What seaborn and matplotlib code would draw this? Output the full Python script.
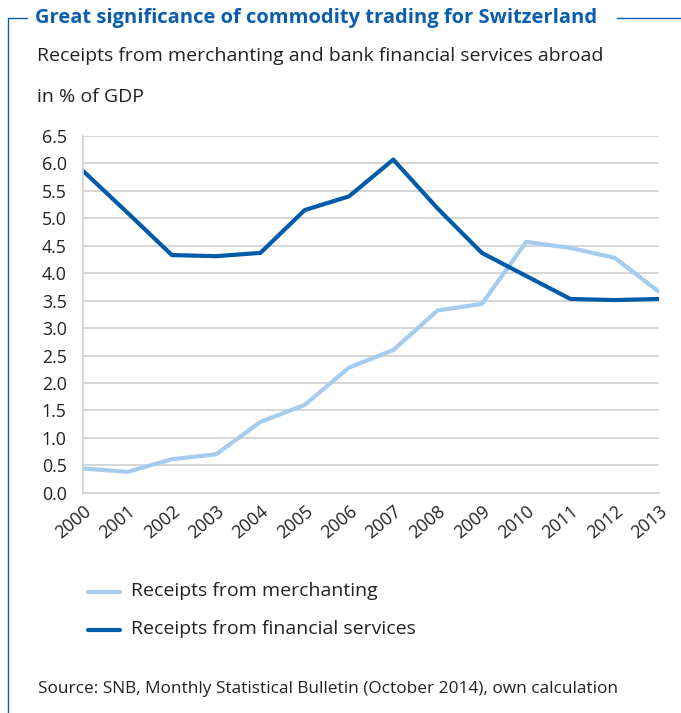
import matplotlib
matplotlib.use("Agg")
import matplotlib.pyplot as plt
import seaborn as sns
import pandas as pd
from matplotlib.lines import Line2D

years = list(range(2000, 2014))
merchanting = [0.44, 0.38, 0.61, 0.70, 1.29, 1.60, 2.28, 2.60, 3.32, 3.44, 4.57, 4.46, 4.28, 3.66]
financial = [5.86, 5.10, 4.33, 4.31, 4.37, 5.15, 5.40, 6.07, 5.18, 4.37, 3.95, 3.53, 3.51, 3.53]
series_names = ["Receipts from merchanting", "Receipts from financial services"]
y_ticks = [0.0, 0.5, 1.0, 1.5, 2.0, 2.5, 3.0, 3.5, 4.0, 4.5, 5.0, 5.5, 6.0, 6.5]

LIGHT = "#A5CBEE"
DARK = "#005BAA"
TITLE_BLUE = "#0B5EAD"

df = pd.DataFrame({
    "year": years * 2,
    "value": merchanting + financial,
    "series": [series_names[0]] * len(years) + [series_names[1]] * len(years),
})

sns.set_theme(style="white")
plt.rcParams["font.family"] = ["Open Sans", "DejaVu Sans"]

W, H = 681, 713
fig = plt.figure(figsize=(W / 100, H / 100), dpi=100)
ax = fig.add_axes([83.3 / W, 1 - 492.7 / H, (659 - 83.3) / W, (492.7 - 136) / H])

sns.lineplot(data=df, x="year", y="value", hue="series",
             palette={series_names[0]: LIGHT, series_names[1]: DARK},
             linewidth=3.0, ax=ax, legend=False)

ax.set_xlim(2000, 2013)
ax.set_ylim(0, 6.5)
ax.set_yticks(y_ticks)
ax.set_yticklabels([f"{v:.1f}" for v in y_ticks], fontsize=12.8, color="#222222")
ax.set_xticks(years)
ax.set_xticklabels([str(y) for y in years], rotation=40, ha="right",
                   rotation_mode="anchor", fontsize=12.8, color="#222222")
ax.tick_params(axis="x", pad=7, length=0)
ax.tick_params(axis="y", pad=12, length=0)
ax.set_xlabel("")
ax.set_ylabel("")
ax.grid(axis="y", color="#D0D0D0", linewidth=1.2)
ax.set_axisbelow(True)
for s in ["top", "right"]:
    ax.spines[s].set_visible(False)
for s in ["left", "bottom"]:
    ax.spines[s].set_color("#D0D0D0")
    ax.spines[s].set_linewidth(1.2)

def px(x, y):
    return x / W, 1 - y / H

# frame bracket
fig.add_artist(Line2D([8 / W, 8 / W], [1 - 18 / H, 0], color=TITLE_BLUE, linewidth=1.0,
                      transform=fig.transFigure))
fig.add_artist(Line2D([8 / W, 27 / W], [1 - 18 / H, 1 - 18 / H], color=TITLE_BLUE, linewidth=1.0,
                      transform=fig.transFigure))
fig.add_artist(Line2D([617 / W, 681 / W], [1 - 18 / H, 1 - 18 / H], color=TITLE_BLUE, linewidth=1.0,
                      transform=fig.transFigure))

fig.text(*px(35, 18), "Great significance of commodity trading for Switzerland",
         fontsize=14.5, fontweight="bold", color=TITLE_BLUE, va="center", ha="left")
fig.text(*px(37, 56), "Receipts from merchanting and bank financial services abroad",
         fontsize=14.0, color="#222222", va="center", ha="left")
fig.text(*px(37, 97), "in % of GDP", fontsize=14.0, color="#222222", va="center", ha="left")

# legend
for i, (name, col) in enumerate(zip(series_names, [LIGHT, DARK])):
    yy = 592 + i * 38
    fig.add_artist(Line2D([88 / W, 120 / W], [1 - yy / H, 1 - yy / H], color=col, linewidth=3.0,
                          transform=fig.transFigure))
    fig.text(*px(131, yy - 1), name, fontsize=14.0, color="#222222", va="center", ha="left")

fig.text(*px(38, 689), "Source: SNB, Monthly Statistical Bulletin (October 2014), own calculation",
         fontsize=12.4, color="#222222", va="center", ha="left")

fig.savefig("out.png", dpi=100, facecolor="white")
